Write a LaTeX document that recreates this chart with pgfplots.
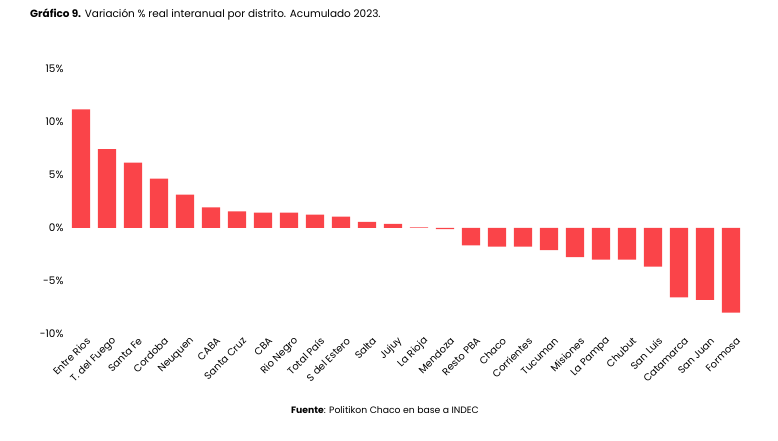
\documentclass[border=0pt]{standalone}
\usepackage{pgfplots}
\pgfplotsset{compat=1.18}
\usepackage{fontspec}
\setmainfont{Poppins}
\definecolor{barred}{RGB}{250,68,73}
\begin{document}
\begin{tikzpicture}[x=1bp,y=1bp]
\useasboundingbox (0,0) rectangle (778,441);
\node[anchor=west,inner sep=0] at (30,426) {\fontsize{10.5}{12}\selectfont\textbf{Gráfico 9.} Variación \% real interanual por distrito. Acumulado 2023.};
\node[anchor=center,inner sep=0] at (385,31) {\fontsize{9.3}{11}\selectfont\textbf{Fuente}: Politikon Chaco en base a INDEC};
\begin{axis}[
  at={(68bp,107bp)}, anchor=south west,
  width=676bp, height=265bp, scale only axis,
  xmin=-0.5, xmax=25.5, ymin=-10, ymax=15,
  axis line style={draw=none},
  major tick length=0pt,
  ytick={-10,-5,0,5,10,15},
  yticklabels={-10\%,-5\%,0\%,5\%,10\%,15\%},
  yticklabel style={font=\fontsize{10.5}{12}\selectfont, xshift=-1bp},
  xtick=data,
  xticklabels={Entre Rios,T. del Fuego,Santa Fe,Cordoba,Neuquen,CABA,Santa Cruz,CBA,Rio Negro,Total País,S del Estero,Salta,Jujuy,La Rioja,Mendoza,Resto PBA,Chaco,Corrientes,Tucuman,Misiones,La Pampa,Chubut,San Luis,Catamarca,San Juan,Formosa},
  xticklabel style={font=\fontsize{10}{11}\selectfont, rotate=45, anchor=east, xshift=5bp, yshift=-9bp},
  clip=false,
]
\addplot[ybar, bar width=0.70, fill=barred, draw=none] coordinates {
(0,11.2) (1,7.45) (2,6.16) (3,4.65) (4,3.14) (5,1.95) (6,1.57) (7,1.45) (8,1.45) (9,1.26) (10,1.07) (11,0.57) (12,0.38) (13,0.06) (14,-0.1) (15,-1.64) (16,-1.76) (17,-1.76) (18,-2.08) (19,-2.74) (20,-2.99) (21,-2.99) (22,-3.65) (23,-6.55) (24,-6.77) (25,-7.99)
};
\end{axis}
\end{tikzpicture}
\end{document}
